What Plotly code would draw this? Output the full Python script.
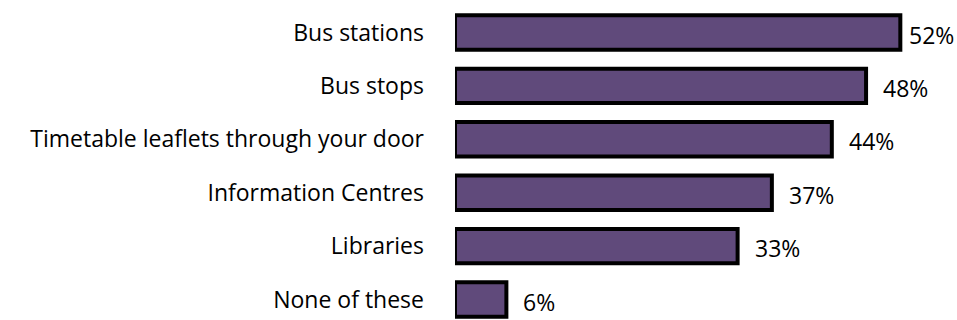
import plotly.graph_objects as go

categories = [
    "Bus stations",
    "Bus stops",
    "Timetable leaflets through your door",
    "Information Centres",
    "Libraries",
    "None of these",
]
values = [52, 48, 44, 37, 33, 6]
value_labels = ["52%", "48%", "44%", "37%", "33%", "6%"]

BAR_FILL = "#604A7B"
FONT = "Open Sans"
FONT_SIZE = 23

fig = go.Figure()
fig.add_trace(
    go.Bar(
        x=values,
        y=categories,
        orientation="h",
        marker=dict(color=BAR_FILL, line=dict(color="#000000", width=4)),
        hoverinfo="skip",
    )
)

x_max = 57.8
for cat, val, lab in zip(categories, values, value_labels):
    # labels sit just past the bar end; pulled in slightly near the right edge
    shift = 7 if val > 0.85 * x_max else 15
    fig.add_annotation(
        x=val, y=cat, text=lab, showarrow=False,
        xanchor="left", yanchor="middle", xshift=shift, yshift=-2,
        font=dict(family=FONT, size=FONT_SIZE, color="#000000"),
    )

fig.update_layout(
    width=957, height=320,
    margin=dict(l=455, r=7, t=0, b=0),
    paper_bgcolor="white", plot_bgcolor="white",
    bargap=0.356,
    showlegend=False,
    font=dict(family=FONT, size=FONT_SIZE, color="#000000"),
)
fig.update_xaxes(range=[0, x_max], visible=False, fixedrange=True)
fig.update_yaxes(
    categoryorder="array", categoryarray=categories,
    range=[5.384, -0.609],
    showgrid=False, zeroline=False, showline=False,
    ticks="", ticklabelstandoff=30,
    tickfont=dict(family=FONT, size=FONT_SIZE, color="#000000"),
    fixedrange=True,
)

fig.write_html("out.html")
